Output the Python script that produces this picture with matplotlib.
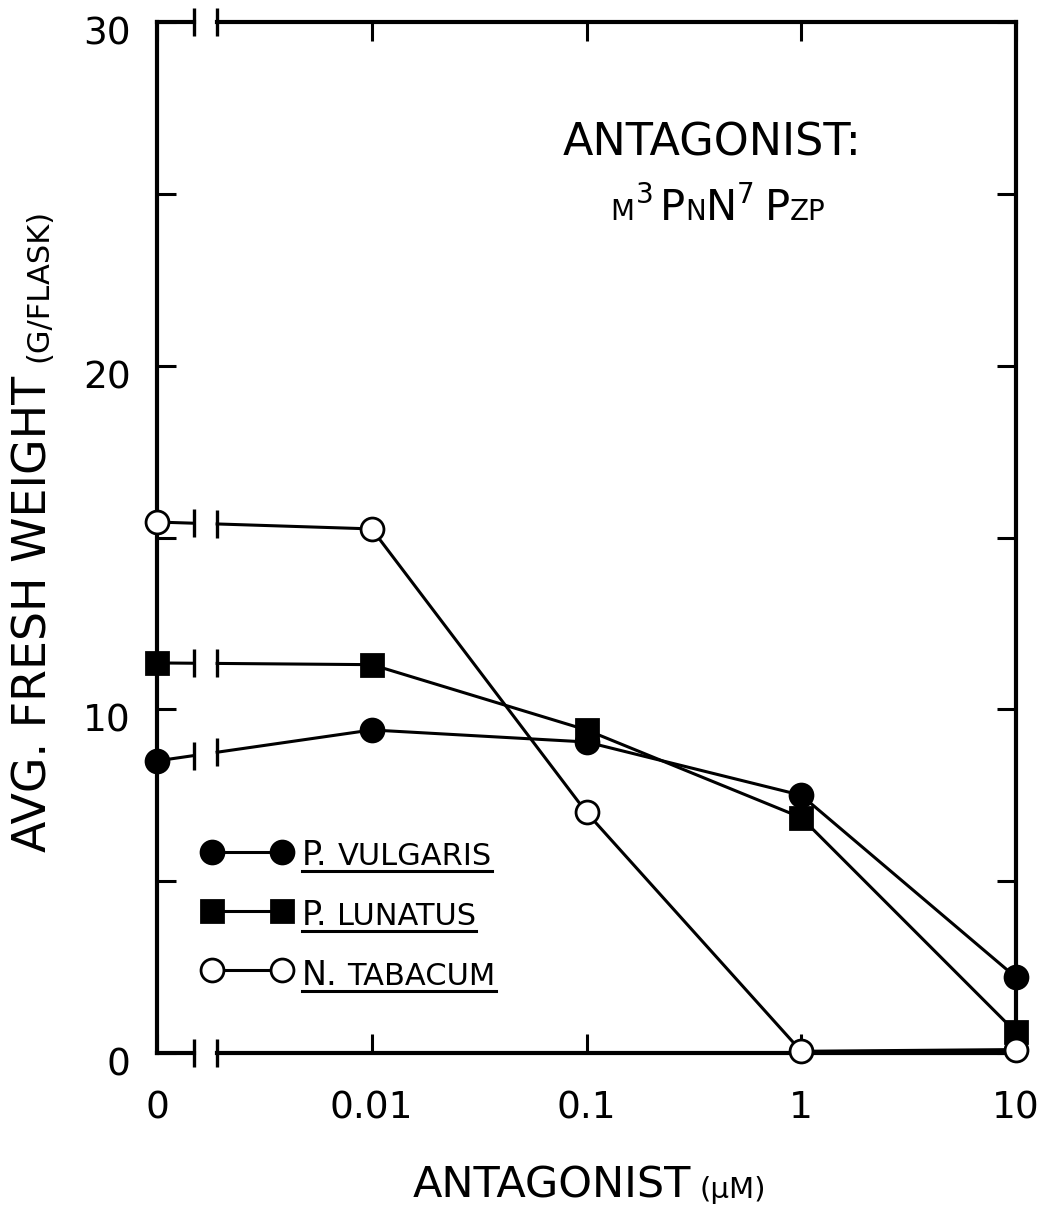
import numpy as np
import matplotlib
matplotlib.use("Agg")
import matplotlib.pyplot as plt
from matplotlib.lines import Line2D

# ---------------- data ----------------
concentrations = [0, 0.01, 0.1, 1, 10]          # antagonist, uM
x_tick_labels = ["0", "0.01", "0.1", "1", "10"]
p_vulgaris = [8.5, 9.4, 9.05, 7.5, 2.2]
p_lunatus = [11.35, 11.3, 9.4, 6.85, 0.6]
n_tabacum = [15.45, 15.25, 7.0, 0.05, 0.1]
y_ticks = [0, 5, 10, 15, 20, 25, 30]
y_tick_labels = ["0", "10", "20", "30"]
legend_names = [("P.", "VULGARIS"), ("P.", "LUNATUS"), ("N.", "TABACUM")]

# ---------------- style ----------------
plt.rcParams['font.family'] = ['DejaVu Sans']
DESC = 0.21
ZERO_STANDIN = 0.001      # broken axis: 0 drawn one decade left of 0.01
BREAK_LO, BREAK_HI = -2.827, -2.72
LW_AX = 3.0
LW_DATA = 2.2
MS = 16.5

W, H = 1044, 1205
fig = plt.figure(figsize=(W / 100, H / 100), dpi=100)
ax = fig.add_axes([157 / W, 1 - 1053 / H, 859 / W, 1031 / H])

xpos = np.log10([c if c > 0 else ZERO_STANDIN for c in concentrations])

ax.set_xlim(xpos[0], xpos[-1])
ax.set_ylim(0, 30)

for s in ['top', 'bottom']:
    ax.spines[s].set_visible(False)
for s in ['left', 'right']:
    ax.spines[s].set_linewidth(LW_AX)

# broken top and bottom axis lines
for yv in (0, 30):
    ax.plot([xpos[0], BREAK_LO], [yv, yv], color='k', lw=LW_AX, clip_on=False,
            solid_capstyle='projecting', zorder=3)
    ax.plot([BREAK_HI, xpos[-1]], [yv, yv], color='k', lw=LW_AX, clip_on=False,
            solid_capstyle='projecting', zorder=3)
    ax.plot([BREAK_LO, BREAK_HI], [yv, yv], ls='none', marker='|', ms=20,
            mew=2.4, color='k', clip_on=False, zorder=3)

ax.set_xticks(xpos)
ax.set_xticklabels(x_tick_labels, fontsize=27)
ax.tick_params(axis='x', direction='in', length=14, width=2.2, top=True,
               bottom=True, pad=27)
ax.set_yticks(y_ticks)
ax.set_yticklabels([])
ax.tick_params(axis='y', direction='in', length=14, width=2.2, left=True,
               right=True, labelleft=False)

for lab in y_tick_labels:
    ax.annotate(lab, xy=(0, float(lab)), xycoords=('axes fraction', 'data'),
                xytext=(-19, -9), textcoords='offset points', ha='right',
                va='center', fontsize=27, annotation_clip=False)


def draw_series(yvals, marker, mfc):
    y = np.asarray(yvals, dtype=float)
    x0, x1 = xpos[0], xpos[1]
    yb_lo = y[0] + (y[1] - y[0]) * (BREAK_LO - x0) / (x1 - x0)
    yb_hi = y[0] + (y[1] - y[0]) * (BREAK_HI - x0) / (x1 - x0)
    ax.plot([x0, BREAK_LO], [y[0], yb_lo], color='k', lw=LW_DATA, clip_on=False, zorder=4)
    ax.plot(np.r_[BREAK_HI, xpos[1:]], np.r_[yb_hi, y[1:]], color='k', lw=LW_DATA,
            clip_on=False, zorder=4)
    ax.plot([BREAK_LO, BREAK_HI], [yb_lo, yb_hi], ls='none', marker='|', ms=20,
            mew=2.4, color='k', clip_on=False, zorder=4)
    ax.plot(xpos, y, ls='none', marker=marker, ms=MS, mfc=mfc, mec='k',
            mew=2.0, clip_on=False, zorder=5)


draw_series(p_vulgaris, 'o', 'k')
draw_series(p_lunatus, 's', 'k')
draw_series(n_tabacum, 'o', 'white')


# ---------------- text helpers ----------------
def chain(first, first_size, parts, rotated=False):
    prev, prev_size, prev_rise = first, first_size, 0.0
    out = [first]
    for txt, size, rise, gap in parts:
        dy = DESC * (prev_size - size) + (rise - prev_rise)
        if rotated:
            t = ax.annotate(txt, xy=(1, 1), xycoords=prev, xytext=(-dy, gap),
                            textcoords='offset points', ha='right', va='bottom',
                            rotation=90, fontsize=size, annotation_clip=False)
        else:
            t = ax.annotate(txt, xy=(1, 0), xycoords=prev, xytext=(gap, dy),
                            textcoords='offset points', ha='left', va='bottom',
                            fontsize=size, annotation_clip=False)
        out.append(t)
        prev, prev_size, prev_rise = t, size, rise
    return out


# y label
yl = fig.text(57 / W, 1 - 852 / H, "AVG. FRESH WEIGHT", rotation=90, ha='right',
              va='bottom', fontsize=33)
chain(yl, 33, [("(G/FLASK)", 22, 0, 10)], rotated=True)

# x label
xl = fig.text(413 / W, 1 - 1198 / H, "ANTAGONIST", ha='left', va='baseline', fontsize=31)
chain(xl, 31, [("(μM)", 21, 0, 6)])

# compound annotation
ax_px = lambda px, py: ((px - 157) / 859, (1053 - py) / 1031)
a1 = ax.text(*ax_px(563, 155), "ANTAGONIST:", transform=ax.transAxes,
             ha='left', va='baseline', fontsize=32)
a2 = ax.text(*ax_px(610, 220), "M", transform=ax.transAxes, ha='left',
             va='baseline', fontsize=20)
chain(a2, 20, [("3", 20, 12, 1), ("P", 30, 0, 5), ("N", 20, 0, 0),
               ("N", 30, 0, 0), ("7", 20, 12, 0), ("P", 30, 0, 7),
               ("ZP", 20, 0, 0)])

# legend
leg_y_marker = [852, 911, 970]
leg_y_base = [865, 925, 985]
leg_specs = [('o', 'k'), ('s', 'k'), ('o', 'white')]
underline_items = []
for (m, fc), ym, yb, (big, small) in zip(leg_specs, leg_y_marker, leg_y_base, legend_names):
    p1, p2 = ax_px(212, ym), ax_px(282, ym)
    ax.add_line(Line2D([p1[0], p2[0]], [p1[1], p2[1]], transform=ax.transAxes,
                       color='k', lw=LW_DATA, marker=m, ms=MS, mfc=fc, mec='k',
                       mew=2.0, zorder=6))
    t0 = ax.text(*ax_px(302, yb), big, transform=ax.transAxes, ha='left',
                 va='baseline', fontsize=24)
    parts = chain(t0, 24, [(small, 22, 0, 7)])
    underline_items.append((parts[0], parts[-1], yb))

fig.canvas.draw()
r = fig.canvas.get_renderer()
for t_first, t_last, yb in underline_items:
    x_a = t_first.get_window_extent(r).x0
    x_b = t_last.get_window_extent(r).x1
    yy = H - (yb + 6)
    fig.add_artist(Line2D([x_a / W, x_b / W], [yy / H, yy / H], color='k',
                          lw=2.2, transform=fig.transFigure))

fig.savefig('out.png', dpi=100)
